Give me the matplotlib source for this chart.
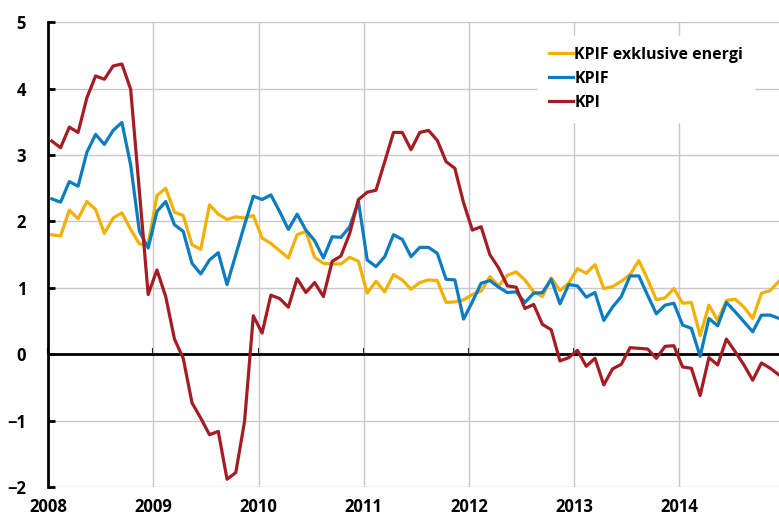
import numpy as np
import matplotlib
matplotlib.use("Agg")
import matplotlib.pyplot as plt

plt.rcParams['font.family'] = ['Open Sans', 'DejaVu Sans']

# Månadsdata jan 2008 - dec 2014, årlig procentuell förändring
kpif_ex_energi = [
    1.80, 1.78, 2.17, 2.04, 2.30, 2.18, 1.82, 2.05, 2.13, 1.88, 1.66, 1.66,
    2.39, 2.50, 2.14, 2.09, 1.65, 1.58, 2.25, 2.11, 2.03, 2.07, 2.05, 2.09,
    1.75, 1.67, 1.56, 1.45, 1.80, 1.85, 1.46, 1.37, 1.36, 1.36, 1.46, 1.40,
    0.92, 1.10, 0.94, 1.20, 1.12, 0.98, 1.08, 1.12, 1.11, 0.78, 0.79, 0.82,
    0.90, 0.95, 1.17, 1.03, 1.19, 1.24, 1.12, 0.94, 0.87, 1.15, 0.96, 1.07,
    1.29, 1.22, 1.35, 0.99, 1.02, 1.10, 1.20, 1.41, 1.13, 0.82, 0.85, 0.99,
    0.77, 0.78, 0.28, 0.74, 0.51, 0.81, 0.83, 0.71, 0.54, 0.92, 0.96, 1.10,
]
kpif = [
    2.34, 2.29, 2.60, 2.53, 3.04, 3.31, 3.16, 3.37, 3.49, 2.85, 1.85, 1.60,
    2.15, 2.30, 1.95, 1.85, 1.37, 1.21, 1.42, 1.53, 1.05, 1.50, 1.95, 2.38,
    2.33, 2.40, 2.15, 1.88, 2.11, 1.87, 1.71, 1.45, 1.77, 1.76, 1.92, 2.30,
    1.42, 1.32, 1.47, 1.80, 1.73, 1.47, 1.61, 1.61, 1.52, 1.13, 1.12, 0.53,
    0.79, 1.07, 1.11, 1.01, 0.93, 0.94, 0.78, 0.92, 0.93, 1.13, 0.76, 1.05,
    1.03, 0.86, 0.93, 0.51, 0.71, 0.87, 1.18, 1.18, 0.89, 0.61, 0.74, 0.77,
    0.44, 0.39, -0.03, 0.54, 0.43, 0.78, 0.64, 0.49, 0.34, 0.59, 0.59, 0.54,
]
kpi = [
    3.21, 3.11, 3.42, 3.34, 3.86, 4.19, 4.14, 4.34, 4.37, 3.99, 2.45, 0.90,
    1.27, 0.87, 0.23, -0.06, -0.73, -0.96, -1.21, -1.16, -1.88, -1.78, -1.01, 0.58,
    0.32, 0.89, 0.84, 0.71, 1.14, 0.93, 1.08, 0.87, 1.40, 1.48, 1.82, 2.33,
    2.44, 2.47, 2.90, 3.34, 3.34, 3.08, 3.34, 3.37, 3.22, 2.90, 2.80, 2.28,
    1.87, 1.92, 1.50, 1.30, 1.03, 1.01, 0.69, 0.75, 0.45, 0.37, -0.10, -0.05,
    0.06, -0.18, -0.06, -0.46, -0.22, -0.15, 0.10, 0.09, 0.08, -0.06, 0.12, 0.13,
    -0.19, -0.21, -0.62, -0.05, -0.16, 0.23, 0.04, -0.16, -0.39, -0.13, -0.21, -0.31,
]
years = list(range(2008, 2015))
labels = ['KPIF exklusive energi', 'KPIF', 'KPI']
colors = ['#F2B000', '#0A7CC1', '#A51C24']

# x-position i decimala år
x = 2008 + (np.arange(len(kpi)) + 0.4) / 12

fig = plt.figure(figsize=(7.79, 5.15), dpi=100)
ax = fig.add_axes([0.062, 0.054, 0.938, 0.903])

for serie, label, color in zip([kpif_ex_energi, kpif, kpi], labels, colors):
    ax.plot(x, serie, color=color, lw=2.3, label=label, zorder=3)

ymin, ymax = -2, 5
ax.set_ylim(ymin, ymax)
ax.set_xlim(2008, 2008 + 83.4 / 12)
ax.set_yticks(range(ymin, ymax + 1))
ax.set_xticks(years)
ax.set_xticklabels([str(y) for y in years])
ax.grid(True, color='#c8c8c8', lw=1)
ax.set_axisbelow(True)

for side in ['top', 'right', 'bottom']:
    ax.spines[side].set_visible(False)
ax.spines['left'].set_linewidth(2)
ax.tick_params(axis='y', direction='in', length=5, width=2, pad=16,
               labelsize=12)
ax.tick_params(axis='x', length=0, pad=8, labelsize=12)
for t in ax.get_xticklabels() + ax.get_yticklabels():
    t.set_fontweight('bold')

# nollinjen med små streck vid varje år
ax.axhline(0, color='black', lw=2, zorder=2)
sec = ax.secondary_xaxis((0 - ymin) / (ymax - ymin))
sec.set_xticks(years)
sec.tick_params(direction='in', length=4, width=1.5, labelbottom=False,
                labeltop=False)
for side in ['top', 'bottom']:
    sec.spines[side].set_visible(False)

leg = ax.legend(loc='upper right', bbox_to_anchor=(0.977, 0.988), frameon=True,
                fancybox=False, edgecolor='white', framealpha=1,
                borderpad=0.7, handlelength=1.45, handletextpad=0.1,
                labelspacing=0.5, prop={'weight': 'bold', 'size': 11.5})
leg.set_zorder(5)

fig.savefig('out.png', dpi=100)
